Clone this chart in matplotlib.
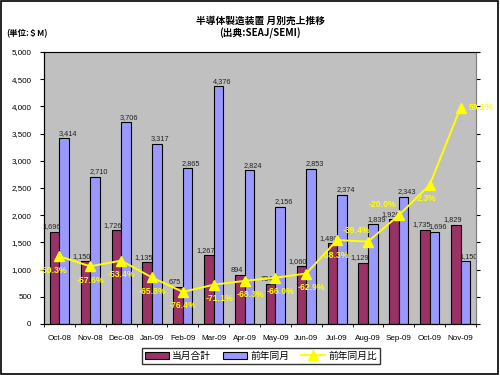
import matplotlib
matplotlib.use("Agg")
import matplotlib.pyplot as plt
import numpy as np
from matplotlib.patches import Rectangle

plt.rcParams['font.family'] = ['Noto Sans CJK JP', 'DejaVu Sans']
NUMFONT = ['Liberation Sans', 'DejaVu Sans']

months = ["Oct-08", "Nov-08", "Dec-08", "Jan-09", "Feb-09", "Mar-09", "Apr-09",
          "May-09", "Jun-09", "Jul-09", "Aug-09", "Sep-09", "Oct-09", "Nov-09"]
current = [1696, 1150, 1726, 1135, 675, 1267, 894, 734, 1060, 1480, 1129, 1926, 1735, 1829]
prev_year = [3414, 2710, 3706, 3317, 2865, 4376, 2824, 2156, 2853, 2374, 1839, 2343, 1696, 1150]
ratio = [-50.3, -57.6, -53.4, -65.8, -76.4, -71.1, -68.3, -66.0, -62.9, -38.3, -39.4, -20.0, 2.3, 59.1]
ratio_labels = ["-50.3%", "-57.6%", "-53.4%", "-65.8%", "-76.4%", "-71.1%", "-68.3%",
                "-66.0%", "-62.9%", "-38.3%", "-39.4%", "-20.0%", "2.3%", "59.1%"]
# label offsets in points (dx, dy) - styling only
lab_off = [(-4, -10), (0, -10), (0, -10), (0, -10), (0, -10), (4, -10), (4, -10),
           (4, -10), (4, -10), (-1, -11), (-8, 8), (-12, 8), (-2, -10), (15, 0)]

fig = plt.figure(figsize=(5, 3.75), dpi=100)
fig.patches.append(Rectangle((0.002, 0.003), 0.994, 0.994, transform=fig.transFigure,
                             fill=False, edgecolor='black', linewidth=1.2))

ax = fig.add_axes([44/500, 1-324/375, 432/500, 272/375])
ax.set_facecolor('#c0c0c0')
x = np.arange(len(months))
w = 0.31
ax.bar(x - w/2, current, w, color='#993366', edgecolor='black', linewidth=0.8, label='当月合計', zorder=2)
ax.bar(x + w/2, prev_year, w, color='#9999ff', edgecolor='black', linewidth=0.8, label='前年同月', zorder=2)
for i in range(len(months)):
    ax.annotate(f"{current[i]:,}", (x[i] - w/2, current[i]), xytext=(-2.5, 1), textcoords='offset points',
                ha='center', va='bottom', fontsize=5.3, color='#222222', family=NUMFONT, zorder=3)
    ax.annotate(f"{prev_year[i]:,}", (x[i] + w/2, prev_year[i]), xytext=(2.5, 1), textcoords='offset points',
                ha='center', va='bottom', fontsize=5.3, color='#222222', family=NUMFONT, zorder=3)

ax.set_xlim(-0.5, len(months) - 0.5)
ax.set_ylim(0, 5000)
ax.set_yticks(np.arange(0, 5001, 500))
ax.set_yticklabels([f"{v:,}" for v in range(0, 5001, 500)], fontsize=5.8, family=NUMFONT)
ax.set_xticks(x)
ax.set_xticklabels(months, fontsize=5.8, family=NUMFONT)
ax.tick_params(axis='x', length=0, pad=8)
ax.set_xticks(np.arange(-0.5, len(months), 1), minor=True)
ax.tick_params(axis='x', which='minor', length=2, direction='out')
ax.tick_params(axis='y', length=3, direction='out', pad=6)
for s in ['top', 'right']:
    ax.spines[s].set_color('#808080')
ax.spines['left'].set_color('black')
ax.spines['bottom'].set_color('black')

ax2 = ax.twinx()
ax2.set_ylim(-100, 100)
ax2.set_yticks(np.arange(-100, 101, 20))
ax2.set_yticklabels([])
ax2.tick_params(axis='y', length=3, direction='out')
ax2.spines['right'].set_color('#808080')
ln, = ax2.plot(x, ratio, color='#ffff00', linewidth=1.4, marker='^', markersize=7,
               markeredgecolor='#ffff00', label='前年同月比', zorder=4)
for i in range(len(months)):
    ax2.annotate(ratio_labels[i], (x[i], ratio[i]), xytext=lab_off[i], textcoords='offset points',
                 ha='center', va='center', fontsize=6.2, color='#ffff00', fontweight='bold',
                 family=NUMFONT, zorder=5)

h1, l1 = ax.get_legend_handles_labels()
leg = fig.legend(h1 + [ln], l1 + ['前年同月比'], loc='center', bbox_to_anchor=(261/500, 1-356/375),
                 ncol=3, fontsize=7, frameon=True, fancybox=False, edgecolor='black',
                 handlelength=2.5, handleheight=0.8, columnspacing=1.2, handletextpad=0.3,
                 borderpad=0.3)
leg.get_frame().set_linewidth(1.0)

fig.text(260/500, 1-21/375, '半導体製造装置 月別売上推移', ha='center', va='center', fontsize=7, fontweight='bold')
fig.text(260/500, 1-33/375, '(出典:SEAJ/SEMI)', ha='center', va='center', fontsize=7, fontweight='bold')
fig.text(6/500, 1-34/375, '(単位:＄M)', ha='left', va='center', fontsize=6, fontweight='bold')

fig.savefig('out.png', dpi=100)
